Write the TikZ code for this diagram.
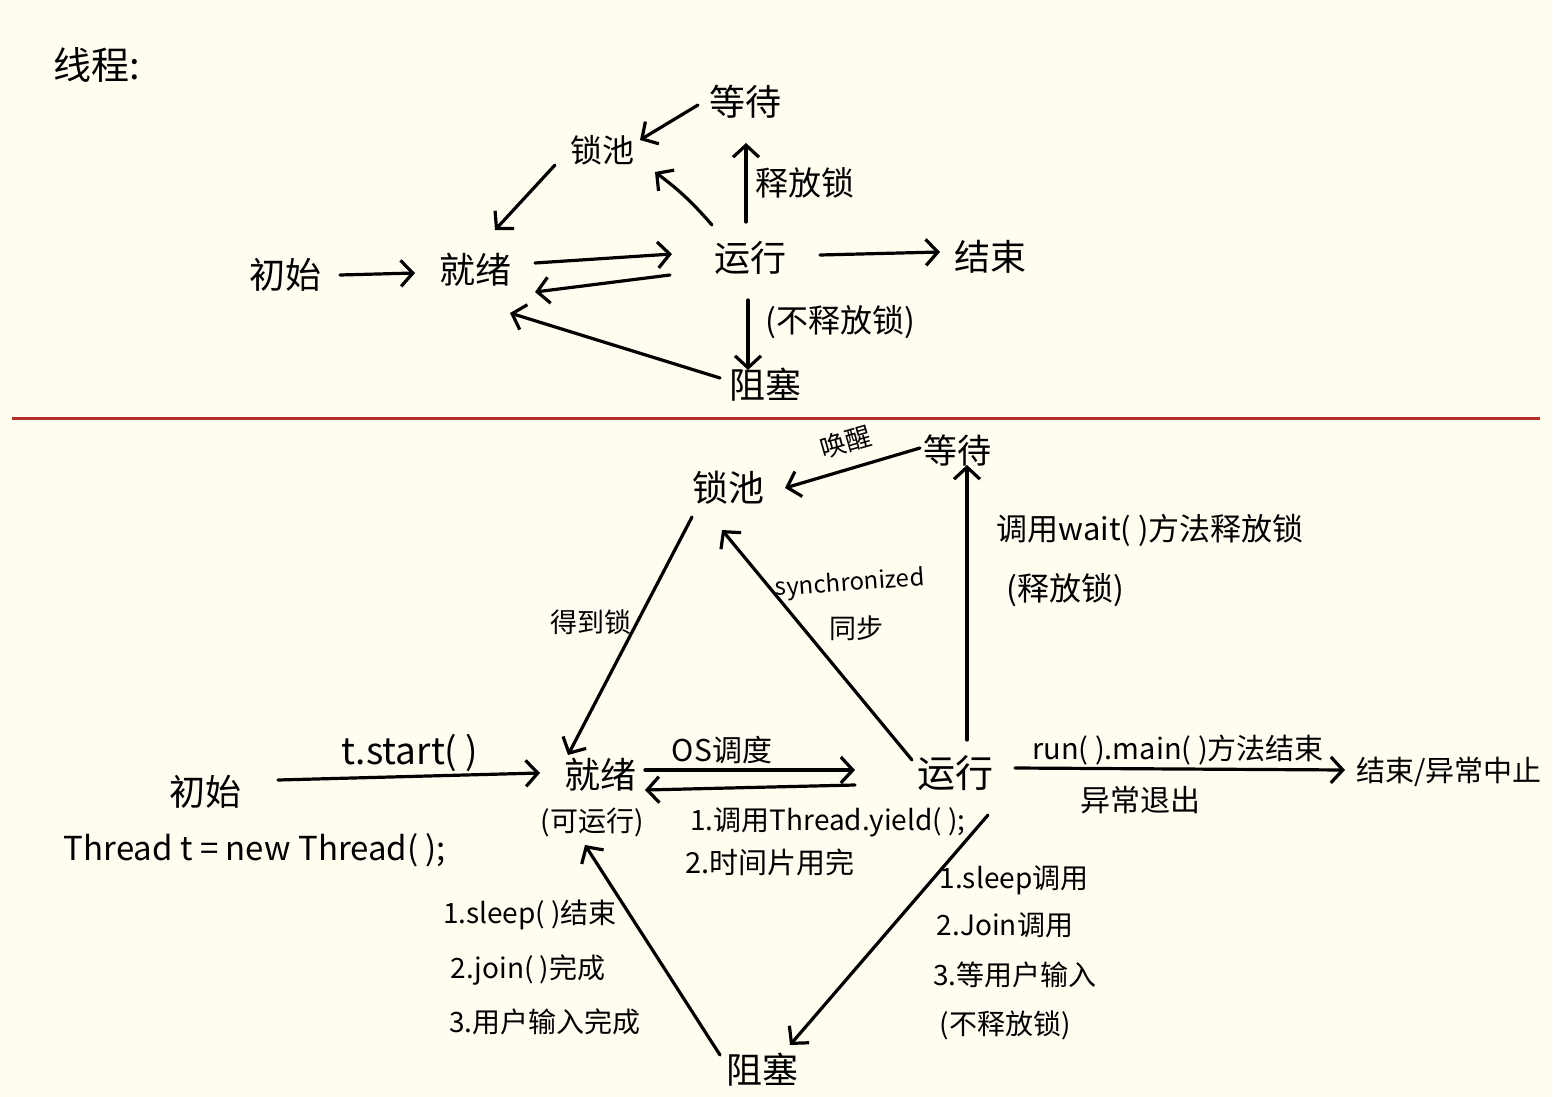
\documentclass[tikz,border=0pt]{standalone}
\usepackage{fontspec}
\setmainfont{Noto Sans CJK SC}
\usetikzlibrary{arrows.meta,calc}
\definecolor{bg}{RGB}{255,253,240}
\definecolor{redline}{RGB}{178,45,35}
\begin{document}
\begin{tikzpicture}[x=1pt,y=-1pt,
  st/.style={inner sep=0pt, font=\fontsize{36}{40}\selectfont},
  lb/.style={inner sep=0pt, font=\fontsize{27}{30}\selectfont},
  arr/.style={line width=3.2pt, line cap=round, line join=round, -{Straight Barb[length=12pt,width=26pt]}}]
\fill[bg] (0,0) rectangle (1552,1097);
\useasboundingbox (0,0) rectangle (1552,1097);

% ---------- top diagram ----------
\node[st, font=\fontsize{38}{42}\selectfont] (title) at (97,65) {线程:};
\node[st] (tInit) at (285,275) {初始};
\node[st] (tReady) at (475,270) {就绪};
\node[st] (tRun) at (750,258) {运行};
\node[st] (tEnd) at (990,257) {结束};
\node[st] (tWait) at (745,102) {等待};
\node[st, font=\fontsize{32}{36}\selectfont] (tPool) at (602,150) {锁池};
\node[st] (tBlock) at (765,385) {阻塞};

\draw[arr] ($(tInit)+(55,0)$) -- ($(tReady)+(-60,3)$);
\draw[arr] ($(tReady)+(60,-7)$) -- ($(tRun)+(-78,-4)$);
\draw[arr] ($(tRun)+(-80,17)$) -- ($(tReady)+(60,22)$);
\draw[arr] ($(tWait)+(-47,3)$) -- ($(tPool)+(38,-10)$);
\draw[arr] ($(tPool)+(-47,15)$) -- ($(tReady)+(20,-40)$);
\draw[arr] ($(tRun)+(-38,-33)$) to[bend right=6] ($(tPool)+(53,22)$);
\draw[arr] ($(tRun)+(-4,-36)$) -- node[lb, right=8pt, font=\fontsize{33}{36}\selectfont] (lRel) {释放锁} ($(tWait)+(1,41)$);
\draw[arr] ($(tRun)+(70,-3)$) -- ($(tEnd)+(-50,-5)$);
\draw[arr] ($(tRun)+(-2,42)$) -- ($(tBlock)+(-17,-15)$);
\node[lb, font=\fontsize{32}{36}\selectfont] (lNoRel) at (840,322) {(不释放锁)};
\draw[arr] ($(tBlock)+(-45,-7)$) -- ($(tReady)+(35,43)$);

% ---------- separator ----------
\draw[redline, line width=3pt] (12,418) -- (1540,418);

% ---------- bottom diagram ----------
\node[st, font=\fontsize{34}{38}\selectfont] (bWait) at (957,450) {等待};
\node[st] (bPool) at (728,488) {锁池};
\node[st] (bReady) at (600,775) {就绪};
\node[lb, font=\fontsize{28}{32}\selectfont] (bReadySub) at (592,822) {(可运行)};
\node[st, font=\fontsize{38}{42}\selectfont] (bRun) at (955,773) {运行};
\node[st, font=\fontsize{29}{33}\selectfont] (bEnd) at (1449,772) {结束/异常中止};
\node[st] (bInit) at (205,792) {初始};
\node[lb, font=\fontsize{33}{36}\selectfont] (bThread) at (255,850) {Thread t = new Thread( );};
\node[st] (bBlock) at (762,1070) {阻塞};

\draw[arr] ($(bWait)+(-37,-2)$) -- ($(bPool)+(57,0)$);
\node[lb, rotate=16, font=\fontsize{26}{28}\selectfont] (lWake) at (846,442) {唤醒};
\draw[arr] ($(bPool)+(-36,29)$) -- ($(bReady)+(-32,-20)$);
\node[lb, font=\fontsize{27}{30}\selectfont] (lGet) at (591,622) {得到锁};
\draw[arr] ($(bRun)+(-43,-13)$) -- ($(bPool)+(-6,42)$);
\node[lb, font=\fontsize{24}{28}\selectfont, rotate=4] (lSync) at (850,584) {synchronized};
\node[lb] (lSync2) at (856,628) {同步};
\draw[arr] ($(bRun)+(12,-33)$) -- ($(bWait)+(10,15)$);
\node[lb, font=\fontsize{31}{34}\selectfont] (lWait1) at (1150,530) {调用wait( )方法释放锁};
\node[lb, font=\fontsize{32}{35}\selectfont] (lWait2) at (1065,590) {(释放锁)};
\draw[arr] ($(bInit)+(73,-12)$) -- ($(bReady)+(-60,-2)$);
\node[lb, font=\fontsize{37}{40}\selectfont] (lStart) at (410,753) {t.start( )};
\draw[arr] ($(bReady)+(45,-5)$) -- ($(bRun)+(-100,-3)$);
\node[lb, font=\fontsize{30}{34}\selectfont] (lOS) at (722,750) {OS调度};
\draw[arr] ($(bRun)+(-100,12)$) -- ($(bReady)+(45,15)$);
\node[lb, font=\fontsize{28}{32}\selectfont] (lYield) at (828,822) {1.调用Thread.yield( );};
\node[lb, font=\fontsize{29}{32}\selectfont] (lSlice) at (770,862) {2.时间片用完};
\draw[arr] ($(bRun)+(60,-5)$) -- ($(bEnd)+(-104,-2)$);
\node[lb, font=\fontsize{29}{32}\selectfont] (lRunEnd) at (1178,750) {run( ).main( )方法结束};
\node[lb, font=\fontsize{30}{34}\selectfont] (lExc) at (1140,800) {异常退出};
\draw[arr] ($(bRun)+(33,42)$) -- ($(bBlock)+(28,-25)$);
\node[lb, font=\fontsize{28}{32}\selectfont] (lB1) at (1014,880) {1.sleep调用};
\node[lb, font=\fontsize{28}{32}\selectfont] (lB2) at (1005,925) {2.Join调用};
\node[lb, font=\fontsize{28}{32}\selectfont] (lB3) at (1015,975) {3.等用户输入};
\node[lb, font=\fontsize{28}{32}\selectfont] (lB4) at (1005,1025) {(不释放锁)};
\draw[arr] ($(bBlock)+(-42,-15)$) -- ($(bReady)+(-15,70)$);
\node[lb, font=\fontsize{28}{32}\selectfont] (lR1) at (530,915) {1.sleep( )结束};
\node[lb, font=\fontsize{28}{32}\selectfont] (lR2) at (528,970) {2.join( )完成};
\node[lb, font=\fontsize{28}{32}\selectfont] (lR3) at (545,1022) {3.用户输入完成};
\end{tikzpicture}
\end{document}
